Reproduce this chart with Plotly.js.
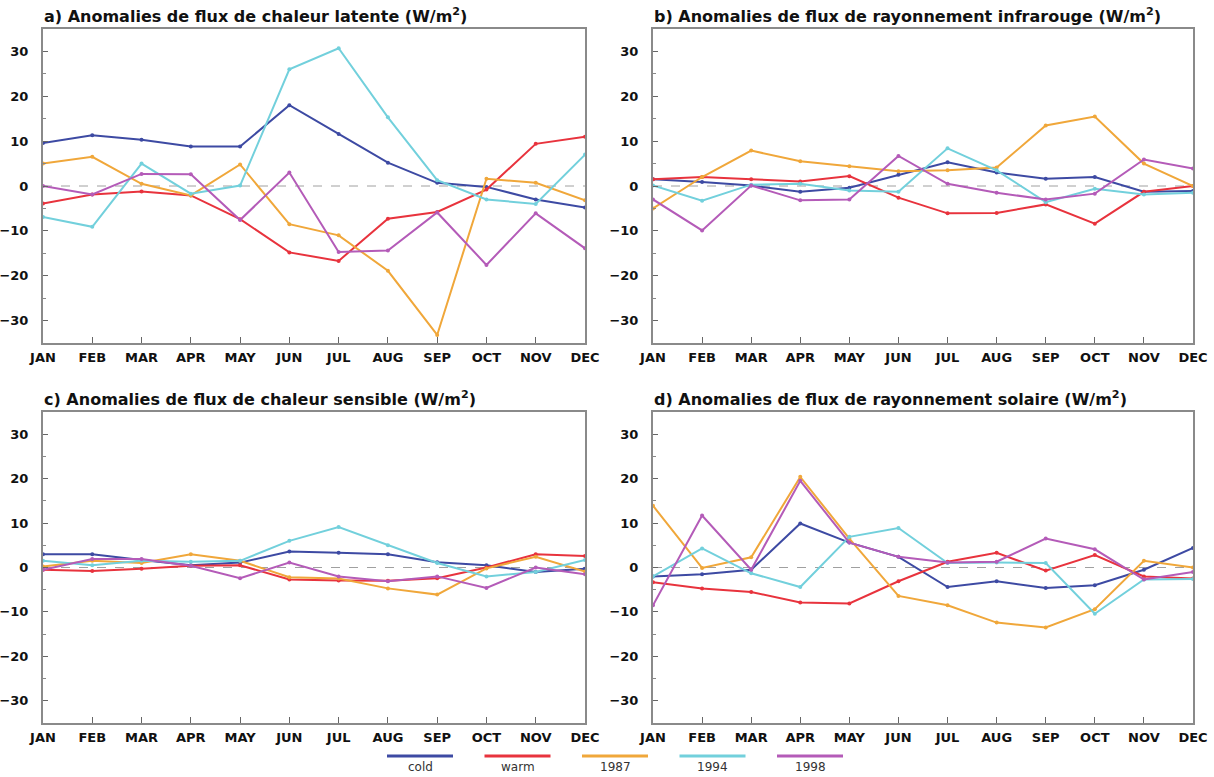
<!DOCTYPE html>
<html><head><meta charset="utf-8">
<script src="https://cdn.plot.ly/plotly-3.0.1.min.js"></script>
<style>html,body{margin:0;padding:0;background:#fff}#chart{width:1214px;height:777px}</style>
</head><body><div id="chart"></div>
<script>
const months = ['JAN','FEB','MAR','APR','MAY','JUN','JUL','AUG','SEP','OCT','NOV','DEC'];
const seriesNames = ['cold','warm','1987','1994','1998'];
const seriesColors = ['#3d4aa3','#e8333d','#f0a73a','#72d0dc','#b45bb8'];
const panelTitles = [
  'a) Anomalies de flux de chaleur latente (W/m<sup>2</sup>)',
  'b) Anomalies de flux de rayonnement infrarouge (W/m<sup>2</sup>)',
  'c) Anomalies de flux de chaleur sensible (W/m<sup>2</sup>)',
  'd) Anomalies de flux de rayonnement solaire (W/m<sup>2</sup>)'
];
const yTickVals = [-30,-20,-10,0,10,20,30];

// a) latent heat flux anomalies
const latentCold = [9.6,11.3,10.3,8.8,8.8,18,11.6,5.2,0.7,-0.2,-3,-4.8];
const latentWarm = [-3.9,-1.9,-1.2,-2.1,-7.4,-14.8,-16.7,-7.3,-5.8,-0.8,9.4,11];
const latent1987 = [5,6.5,0.5,-2.1,4.8,-8.5,-11,-18.9,-33.2,1.6,0.7,-3.2];
const latent1994 = [-6.9,-9.1,5,-1.7,0.1,26,30.7,15.3,1.3,-3,-4,7];
const latent1998 = [0,-1.9,2.7,2.6,-7.6,3,-14.7,-14.4,-5.9,-17.6,-6.1,-13.9];

// b) infrared radiation flux anomalies
const irCold = [1.5,0.9,0.1,-1.3,-0.4,2.5,5.3,3,1.6,2,-1.3,-1.1];
const irWarm = [1.5,2,1.5,1,2.2,-2.6,-6.1,-6,-4.1,-8.4,-1.3,0];
const ir1987 = [-5,2,7.9,5.5,4.4,3.3,3.5,4.1,13.5,15.5,5,0];
const ir1994 = [0.1,-3.3,0.3,0.5,-1,-1.3,8.4,3.5,-3.6,-0.6,-1.9,-1.5];
const ir1998 = [-3,-9.9,0.1,-3.2,-3,6.7,0.5,-1.5,-3,-1.7,5.9,3.9];

// c) sensible heat flux anomalies
const sensCold = [3,3,1.7,0.5,1.1,3.6,3.3,3,1.2,0.5,-1,-0.3];
const sensWarm = [-0.5,-0.8,-0.3,0.4,0.5,-2.7,-2.9,-3,-2.4,0,3,2.6];
const sens1987 = [0.2,1.5,1,3,1.5,-2.2,-2.5,-4.7,-6.1,-0.2,2.4,-0.9];
const sens1994 = [1.5,0.5,1.5,1.3,1.5,6,9.1,5,1,-2,-1,1.7];
const sens1998 = [-0.5,1.9,1.9,0.4,-2.4,1.1,-2,-3.1,-2,-4.6,0,-1.5];

// d) solar radiation flux anomalies
const solarCold = [-2,-1.5,-0.5,9.9,5.6,2.4,-4.4,-3.1,-4.6,-4,-0.5,4.4];
const solarWarm = [-3.3,-4.7,-5.5,-7.9,-8.1,-3.1,1.3,3.3,-0.7,2.8,-2,-2.5];
const solar1987 = [13.9,-0.1,2.3,20.4,6.5,-6.4,-8.5,-12.4,-13.5,-9.4,1.5,0];
const solar1994 = [-2,4.3,-1.3,-4.4,6.9,8.9,1,1.1,1,-10.4,-2.7,-2.6];
const solar1998 = [-8.5,11.7,-0.5,19.5,5.6,2.4,1.1,1.3,6.5,4.1,-2.7,-1];

const panelData = [
  [latentCold,latentWarm,latent1987,latent1994,latent1998],
  [irCold,irWarm,ir1987,ir1994,ir1998],
  [sensCold,sensWarm,sens1987,sens1994,sens1998],
  [solarCold,solarWarm,solar1987,solar1994,solar1998]
];

const W = 1214, H = 777;
const px = v => v / W, py = v => 1 - v / H;
// panel geometry (pixels)
const xDom = [[43,585],[653,1193],[43,585],[653,1193]];
const yDom = [[29,343],[29,343],[412,723],[412,723]];
const titleY = [16,16,398,398];

const traces = [];
const layout = {
  width: W, height: H,
  margin: {l:0,r:0,t:0,b:0},
  paper_bgcolor: '#fff', plot_bgcolor: '#fff',
  showlegend: false,
  shapes: [], annotations: []
};
const font = 'DejaVu Sans, Verdana, sans-serif';

panelData.forEach((series, p) => {
  const k = p === 0 ? '' : String(p + 1);
  const xa = 'x' + k, ya = 'y' + k;
  series.forEach((vals, s) => {
    traces.push({
      x: months, y: vals, xaxis: xa, yaxis: ya,
      type: 'scatter', mode: 'lines+markers',
      name: seriesNames[s],
      line: {color: seriesColors[s], width: 2},
      marker: {color: seriesColors[s], size: 4},
      hoverinfo: 'skip'
    });
  });
  layout['xaxis' + k] = {
    domain: [px(xDom[p][0]), px(xDom[p][1])],
    anchor: ya, type: 'category', range: [0, 11],
    showgrid: false, zeroline: false,
    showline: true, mirror: true, linecolor: '#8a8a8a', linewidth: 2,
    ticks: 'inside', ticklen: 6, tickcolor: '#666', tickwidth: 1,
    ticklabelstandoff: 1,
    tickfont: {family: font, size: 13, color: '#111', weight: 'bold'},
    fixedrange: true
  };
  layout['yaxis' + k] = {
    domain: [py(yDom[p][1]), py(yDom[p][0])],
    anchor: xa, range: [-35, 35],
    tickvals: yTickVals,
    showgrid: false, zeroline: false,
    showline: true, mirror: true, linecolor: '#8a8a8a', linewidth: 2,
    ticks: 'inside', ticklen: 5, tickcolor: '#666', tickwidth: 1,
    ticklabelstandoff: 10,
    minor: {dtick: 5, ticks: 'inside', ticklen: 3, tickcolor: '#888'},
    tickfont: {family: font, size: 13, color: '#111', weight: 'bold'},
    fixedrange: true
  };
  layout.shapes.push({
    type: 'line', xref: xa + ' domain', yref: ya, x0: 0, x1: 1, y0: 0, y1: 0,
    line: {color: '#a0a0a0', width: 1, dash: 'dash'}, layer: 'below'
  });
  layout.annotations.push({
    text: panelTitles[p], xref: 'paper', yref: 'paper',
    x: px(xDom[p][0] - 1), y: py(titleY[p]),
    xanchor: 'left', yanchor: 'middle', showarrow: false,
    font: {family: font, size: 16, color: '#111', weight: 'bold'}
  });
});

// legend below the panels: sample line with label underneath
const legStart = 387, legStep = 97.5, legLen = 66;
seriesNames.forEach((nm, s) => {
  const x0 = legStart + s * legStep;
  layout.shapes.push({
    type: 'line', xref: 'paper', yref: 'paper',
    x0: px(x0), x1: px(x0 + legLen), y0: py(756), y1: py(756),
    line: {color: seriesColors[s], width: 3}
  });
  layout.annotations.push({
    text: nm, xref: 'paper', yref: 'paper',
    x: px(x0 + legLen / 2), y: py(767), xanchor: 'center', yanchor: 'middle',
    showarrow: false, font: {family: font, size: 12, color: '#333'}
  });
});

Plotly.newPlot('chart', traces, layout, {staticPlot: true, displayModeBar: false});
</script>
</body></html>
